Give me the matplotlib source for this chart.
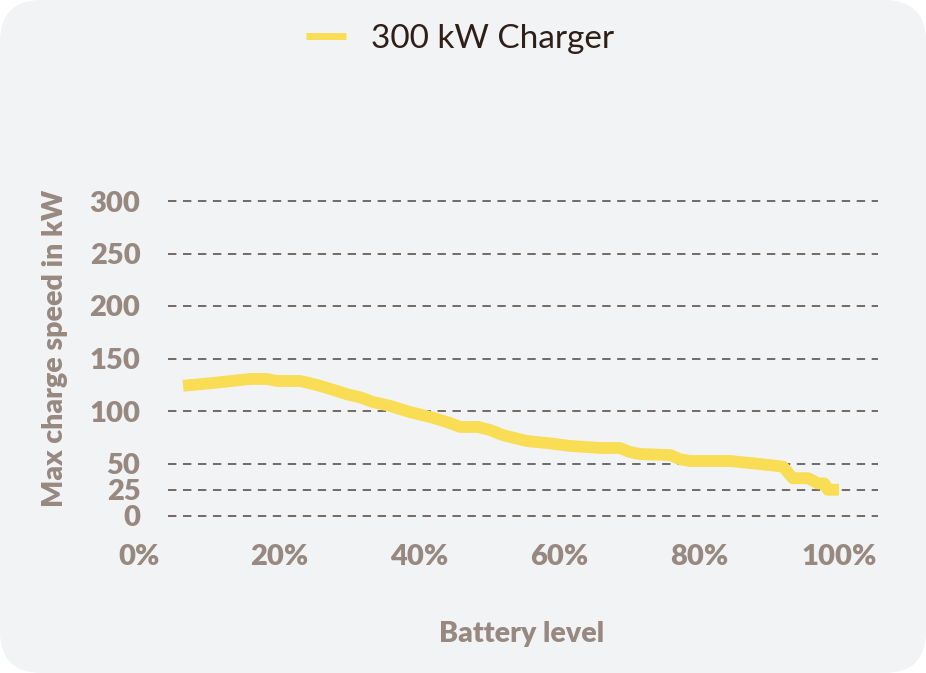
import matplotlib
matplotlib.use("Agg")
import matplotlib.pyplot as plt
from matplotlib.patches import FancyBboxPatch

# ==========================
# 数据
# ==========================

battery_pct = [6.3, 10.6, 15.9, 18.3, 19.7, 23.0, 25.4, 26.9, 29.7, 31.6,
               33.4, 35.9, 38.7, 41.6, 44.0, 45.9, 48.4, 50.1, 52.0, 55.4,
               58.3, 61.6, 65.9, 68.7, 70.1, 71.6, 75.9, 77.3, 78.7, 84.4,
               88.7, 92.0, 93.4, 95.6, 97.0, 97.9, 98.4, 100.0]
charge_kw = [124, 126.7, 130.5, 130.5, 128.6, 128.6, 124.8, 121.9, 116, 113,
             108.6, 104.8, 99, 94.3, 89.5, 84.8, 84.8, 82, 77, 71.4,
             69.5, 66.7, 64.8, 64.8, 61, 59, 58, 54, 52.4, 52.4,
             49.5, 47, 36, 36, 31, 31, 25, 25]

y_ticks = [0, 25, 50, 100, 150, 200, 250, 300]
x_ticks = [0, 20, 40, 60, 80, 100]
x_labels = ["0%", "20%", "40%", "60%", "80%", "100%"]

# ==========================
# 样式
# ==========================

W, H = 926, 673
bg = "#f2f3f5"
yellow = "#f8dd55"
tick_col = "#978980"
grid_col = "#4f4540"
font = "Lato"

fig = plt.figure(figsize=(W / 100, H / 100), dpi=100, facecolor="white")
fig.patches.append(FancyBboxPatch((0, 0), 1, 1, boxstyle="round,pad=0,rounding_size=0.045",
                                  transform=fig.transFigure, facecolor=bg,
                                  edgecolor="none", zorder=-10, mutation_aspect=W / H))

# 坐标轴: 0% -> 139px, 100% -> 839px ; 0 -> 516px, 300 -> 201px
left_px, right_px = 130, 880
bot_px, top_px = 530, 190
ax = fig.add_axes([left_px / W, (H - bot_px) / H, (right_px - left_px) / W, (bot_px - top_px) / H])
ax.set_facecolor("none")
ax.set_xlim((left_px - 139) / 7, (right_px - 139) / 7)
ax.set_ylim(-(bot_px - 516) / 1.05, (516 - top_px) / 1.05)

for s in ax.spines.values():
    s.set_visible(False)

ax.hlines(y_ticks, (168 - 139) / 7, (878 - 139) / 7, colors=grid_col,
          linewidth=1.1, linestyles=(0, (5.5, 4.3)), zorder=1)

ax.plot(battery_pct, charge_kw, color=yellow, linewidth=8.5,
        solid_joinstyle="round", solid_capstyle="butt", zorder=3, label="300 kW Charger")

ax.set_yticks(y_ticks)
ax.set_yticklabels([str(v) for v in y_ticks])
ax.set_xticks(x_ticks)
ax.set_xticklabels(x_labels)
ax.tick_params(axis="y", length=0, pad=-7.5, labelsize=21, labelcolor=tick_col)
ax.tick_params(axis="x", length=0, pad=10, labelsize=21, labelcolor=tick_col)
for lab in ax.get_xticklabels() + ax.get_yticklabels():
    lab.set_fontfamily(font)
    lab.set_fontweight("heavy")

fig.text(55 / W, 1 - 348 / H, "Max charge speed in kW", rotation=90, ha="center", va="center",
         fontsize=20.5, fontweight="heavy", color=tick_col, family=font)
fig.text(522 / W, 1 - 634 / H, "Battery level", ha="center", va="center",
         fontsize=20.5, fontweight="heavy", color=tick_col, family=font)

leg = fig.legend(loc="center", bbox_to_anchor=(0.497, 1 - 39 / H), frameon=False,
                 handlelength=1.2, handletextpad=0.75,
                 prop={"family": font, "weight": "normal", "size": 24})
for t in leg.get_texts():
    t.set_color("#2e1f18")
for l in leg.get_lines():
    l.set_linewidth(5)

fig.savefig("out.png", dpi=100, facecolor="white")
